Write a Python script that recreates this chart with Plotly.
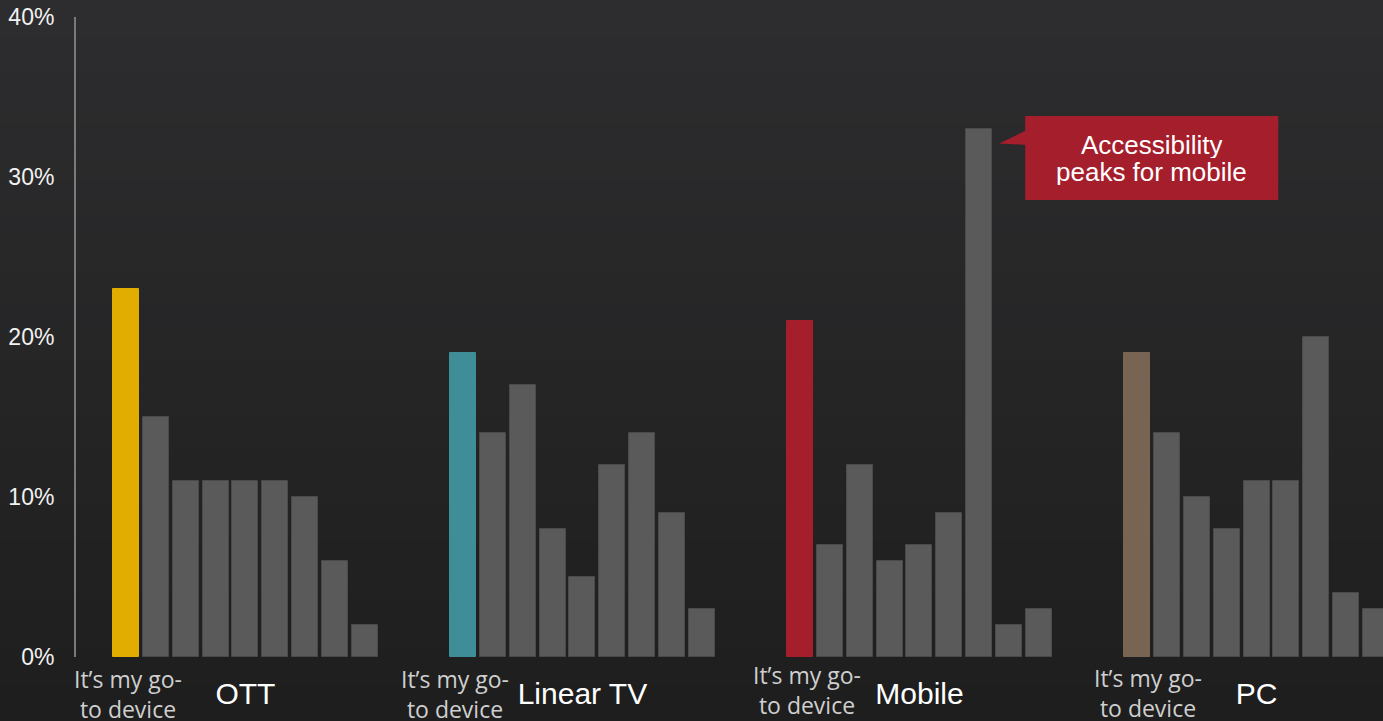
import plotly.graph_objects as go

# ---- data ----
groups = ["OTT", "Linear TV", "Mobile", "PC"]
ott = [23, 15, 11, 11, 11, 11, 10, 6, 2]
linear_tv = [19, 14, 17, 8, 5, 12, 14, 9, 3]
mobile = [21, 7, 12, 6, 7, 9, 33, 2, 3]
pc = [19, 14, 10, 8, 11, 11, 20, 4, 3]
series = [ott, linear_tv, mobile, pc]
first_bar_label = "It’s my go-<br>to device"
callout_lines = ["Accessibility", "peaks for mobile"]
ytick_vals = [0, 10, 20, 30, 40]
ytick_text = ["0%", "10%", "20%", "30%", "40%"]

# ---- style ----
highlight = ["#e1ad00", "#3e8d97", "#a51e2c", "#786453"]
gray = "#5a5a5a"
G = 11.294          # group pitch in bar slots
BAR_W = 0.871
X0 = -1.6756
X1 = 42.12

fig = go.Figure()

# background gradient bands
top = (45, 45, 47)
bot = (30, 30, 30)
n = 40
shapes = []
for k in range(n):
    t = k / (n - 1)
    c = tuple(round(top[j] + (bot[j] - top[j]) * t) for j in range(3))
    y_hi = 1 + 17 / 640 - k * (721 / 640) / n
    y_lo = y_hi - (721 / 640) / n - 0.002
    shapes.append(dict(type="rect", xref="paper", yref="paper", x0=-0.1, x1=1.1,
                       y0=y_lo, y1=y_hi, fillcolor="rgb(%d,%d,%d)" % c,
                       line=dict(width=0), layer="below"))

for g, vals in enumerate(series):
    xs = [g * G + i for i in range(len(vals))]
    colors = [highlight[g]] + [gray] * (len(vals) - 1)
    line_colors = [highlight[g]] + ["#4a4a4a"] * (len(vals) - 1)
    fig.add_trace(go.Bar(x=xs, y=vals, width=BAR_W,
                         marker=dict(color=colors, line=dict(color=line_colors, width=1)),
                         showlegend=False, hoverinfo="skip"))

# callout box and pointer
bx0, bx1, by0, by1 = 30.13, 38.61, 28.56, 33.81
shapes.append(dict(type="rect", xref="x", yref="y", x0=bx0, x1=bx1, y0=by0, y1=by1,
                   fillcolor="#a51e2c", line=dict(width=0), layer="above"))
shapes.append(dict(type="path", xref="x", yref="y",
                   path="M 29.26 32.1 L 30.2 32.94 L 30.2 32.0 Z",
                   fillcolor="#a51e2c", line=dict(width=0), layer="above"))

annotations = []
cx = (bx0 + bx1) / 2
for line_txt, yy in zip(callout_lines, [32.0, 30.3]):
    annotations.append(dict(x=cx, y=yy, xref="x", yref="y", text=line_txt, showarrow=False,
                            font=dict(family="Liberation Sans, Arial", size=26, color="#ffffff"),
                            xanchor="center", yanchor="middle", height=26))

dxs = [0.07, -0.28, 0.23, 0.37]
yshifts = [0, 0, 4, 1]
for g in range(len(groups)):
    annotations.append(dict(x=g * G + dxs[g], y=-0.058, xref="x", yref="paper",
                            text=first_bar_label, showarrow=False, yshift=yshifts[g],
                            font=dict(family="Open Sans", size=23, color="#cfcfcf"),
                            xanchor="center", yanchor="middle"))

fig.update_layout(
    width=1383, height=721,
    margin=dict(l=76, r=0, t=17, b=64),
    paper_bgcolor="#262626", plot_bgcolor="rgba(0,0,0,0)",
    shapes=shapes, annotations=annotations, bargap=0,
    xaxis=dict(range=[X0, X1], showgrid=False, zeroline=False, showline=False,
               tickvals=[g * G + 4 for g in range(len(groups))], ticktext=groups,
               tickfont=dict(family="Liberation Sans, Arial", size=30, color="#ffffff"),
               ticks="", ticklabelstandoff=16),
    yaxis=dict(range=[0, 40], showgrid=False, zeroline=False, showline=True,
               linecolor="#7a7a7a", linewidth=2,
               tickvals=ytick_vals, ticktext=ytick_text,
               tickfont=dict(family="Liberation Sans, Arial", size=23, color="#f2f2f2"),
               ticks="", ticklabelstandoff=15),
)

fig.write_html("out.html", config={"displayModeBar": False},
               post_script="document.body.style.margin='0px';")
